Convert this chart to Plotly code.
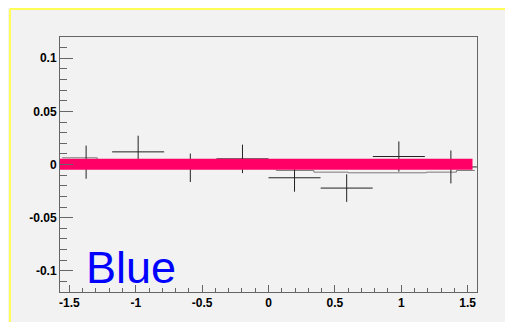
import plotly.graph_objects as go

# Data points (bin centres, values, errors)
pt_x = [-1.374, -0.982, -0.589, -0.196, 0.196, 0.589, 0.982, 1.374]
pt_y = [0.0022, 0.0119, -0.0031, 0.0053, -0.0125, -0.0222, 0.0075, -0.0023]
pt_ex = [0.196, 0.196, 0.196, 0.196, 0.196, 0.196, 0.196, 0.196]
pt_ey = [0.0156, 0.0152, 0.0134, 0.0134, 0.0131, 0.0130, 0.0142, 0.0155]

# Thin grey step histogram
gray_edges = [-1.555, -1.29, 0.059, 0.342, 0.599, 1.19, 1.416, 1.554]
gray_vals = [0.0063, 0.0015, -0.0056, -0.0072, -0.0078, -0.0072, -0.0056]

# Thick pink line
pink_x = [-1.6, 1.537]
pink_y = [0.0003, 0.0003]

# Tick labels
x_tickvals = [-1.5, -1, -0.5, 0, 0.5, 1, 1.5]
x_ticktext = ["-1.5", "-1", "-0.5", "0", "0.5", "1", "1.5"]
y_tickvals = [-0.1, -0.05, 0, 0.05, 0.1]
y_ticktext = ["-0.1", "-0.05", "0", "0.05", "0.1"]

label_text = "Blue"

fig = go.Figure()
fig.add_trace(go.Scatter(
    x=gray_edges, y=gray_vals + [gray_vals[-1]], mode="lines",
    line=dict(color="#7a7a7a", width=1, shape="hv"), hoverinfo="skip"))
fig.add_trace(go.Scatter(
    x=pt_x, y=pt_y, mode="markers", marker=dict(size=0.1, color="black"),
    error_x=dict(type="data", array=pt_ex, width=0, thickness=1, color="#222"),
    error_y=dict(type="data", array=pt_ey, width=0, thickness=1, color="#222")))
fig.add_trace(go.Scatter(
    x=pink_x, y=pink_y, mode="lines",
    line=dict(color="#ff0066", width=11)))

tickfont = dict(family="Liberation Sans, Arial, sans-serif", size=12,
                color="black", weight="bold")

L, T, PW, PH = 52, 29, 417, 255
W, H = 513, 322

fig.update_layout(
    width=W, height=H,
    margin=dict(l=L, r=W - L - PW, t=T, b=H - T - PH),
    paper_bgcolor="#f2f2f2", plot_bgcolor="#f2f2f2",
    showlegend=False,
    xaxis=dict(range=[-1.5708, 1.5708], showgrid=False, zeroline=False,
               showline=True, linecolor="#666", linewidth=1, mirror=True,
               tickmode="array", tickvals=x_tickvals, ticktext=x_ticktext,
               ticks="inside", ticklen=7, tickcolor="#666", tickwidth=1,
               minor=dict(tickmode="linear", tick0=0, dtick=0.1,
                          ticks="inside", ticklen=4, tickcolor="#666"),
               tickfont=tickfont),
    yaxis=dict(range=[-0.12, 0.12], showgrid=False, zeroline=False,
               showline=True, linecolor="#666", linewidth=1, mirror=True,
               tickmode="array", tickvals=y_tickvals, ticktext=y_ticktext,
               ticks="inside", ticklen=13, tickcolor="#666", tickwidth=1,
               minor=dict(tickmode="linear", tick0=0, dtick=0.01,
                          ticks="inside", ticklen=7, tickcolor="#666"),
               tickfont=tickfont),
    annotations=[dict(text=label_text, xref="paper", yref="paper",
                      x=0.061, y=-0.008, xanchor="left", yanchor="bottom",
                      showarrow=False, borderpad=0,
                      font=dict(family="Liberation Sans, Arial, sans-serif",
                                size=45, color="#0000ff"))],
    shapes=[
        dict(type="line", xref="paper", yref="paper",
             x0=(2 - L) / PW, x1=1.3, y0=(T + PH - 1) / PH, y1=(T + PH - 1) / PH,
             line=dict(color="#ffff55", width=2)),
        dict(type="line", xref="paper", yref="paper",
             x0=(2 - L) / PW, x1=(2 - L) / PW, y0=(T + PH - 1) / PH, y1=-0.3,
             line=dict(color="#ffff55", width=2)),
    ],
)

fig.write_html("out.html")
